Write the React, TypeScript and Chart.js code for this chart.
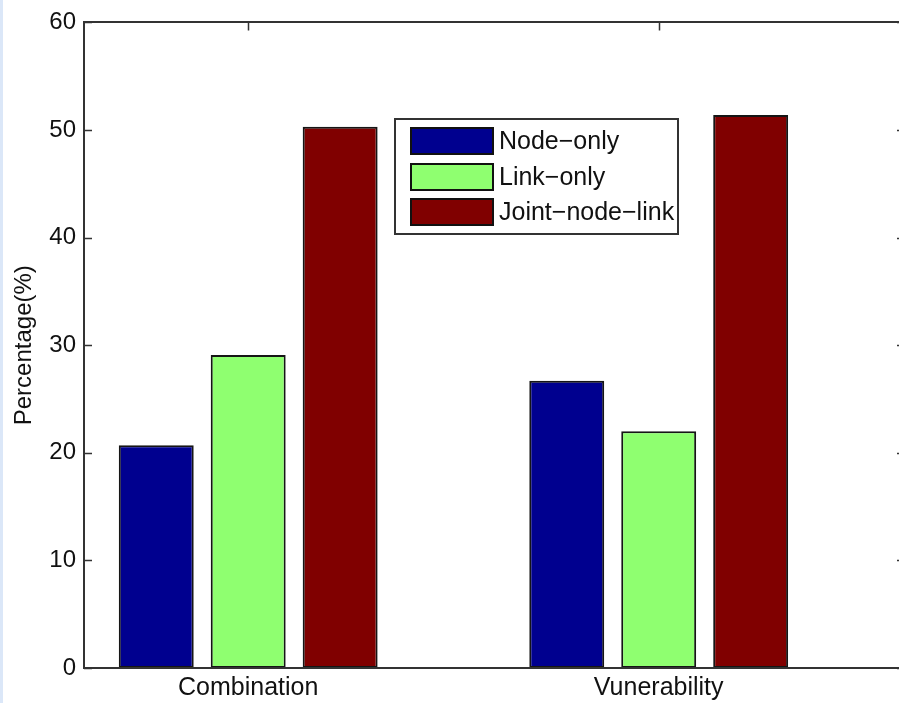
import React, { useEffect, useRef } from 'react';
import { Chart, registerables } from 'chart.js';

Chart.register(...registerables);

// ---- data ----
const categories = ['Combination', 'Vunerability'];
const categoryPositions = [1, 2];
const nodeOnly = [20.7, 26.7];
const linkOnly = [29.1, 22.0];
const jointNodeLink = [50.3, 51.4];
const seriesLabels = ['Node−only', 'Link−only', 'Joint−node−link'];
const yTickValues = [0, 10, 20, 30, 40, 50, 60];

const FONT = '"Liberation Sans", Arial, Helvetica, sans-serif';
const AXIS_COLOR = '#333';
const TEXT_COLOR = '#111';

const framePlugin = {
  id: 'matlabFrame',
  beforeDatasetsDraw(chart: any) {
    const { ctx, chartArea, scales } = chart;
    const { left, right, top, bottom } = chartArea;
    const tl = 8;
    ctx.save();
    ctx.strokeStyle = AXIS_COLOR;
    ctx.lineWidth = 1.5;
    ctx.beginPath();
    yTickValues.forEach((v) => {
      const y = Math.round(scales.y.getPixelForValue(v)) + 0.5;
      ctx.moveTo(left, y);
      ctx.lineTo(left + tl, y);
      ctx.moveTo(right, y);
      ctx.lineTo(right - tl, y);
    });
    categoryPositions.forEach((v) => {
      const x = Math.round(scales.x.getPixelForValue(v)) + 0.5;
      ctx.moveTo(x, top);
      ctx.lineTo(x, top + tl);
      ctx.moveTo(x, bottom);
      ctx.lineTo(x, bottom - tl);
    });
    ctx.stroke();
    ctx.restore();
  },
  afterDatasetsDraw(chart: any) {
    const { ctx, chartArea } = chart;
    const { left, right, top, bottom } = chartArea;
    ctx.save();
    ctx.strokeStyle = AXIS_COLOR;
    ctx.lineWidth = 2;
    ctx.strokeRect(Math.round(left), Math.round(top), Math.round(right - left), Math.round(bottom - top));
    ctx.restore();
  },
  afterDraw(chart: any) {
    // legend box (MATLAB style, inside axes)
    const { ctx } = chart;
    const boxX = 395;
    const boxY = 119;
    const boxW = 283;
    const boxH = 115;
    ctx.save();
    ctx.fillStyle = '#fff';
    ctx.fillRect(boxX, boxY, boxW, boxH);
    ctx.strokeStyle = AXIS_COLOR;
    ctx.lineWidth = 2;
    ctx.strokeRect(boxX, boxY, boxW, boxH);
    const rowTop = [128, 164, 199];
    chart.data.datasets.forEach((ds: any, i: number) => {
      const sy = rowTop[i];
      ctx.fillStyle = ds.backgroundColor;
      ctx.fillRect(411, sy, 82, 26);
      ctx.strokeStyle = '#111';
      ctx.lineWidth = 2;
      ctx.strokeRect(411, sy, 82, 26);
      ctx.fillStyle = TEXT_COLOR;
      ctx.font = `25px ${FONT}`;
      ctx.textAlign = 'left';
      ctx.textBaseline = 'middle';
      ctx.fillText(ds.label, 499, sy + 14);
    });
    ctx.restore();
  },
};

export default function App() {
  const canvasRef = useRef<HTMLCanvasElement | null>(null);

  useEffect(() => {
    if (!canvasRef.current) return;
    const mk = (vals: number[]) => vals.map((v, i) => ({ x: categoryPositions[i], y: v }));
    const colors = ['#00008f', '#8fff70', '#800000'];
    const series = [nodeOnly, linkOnly, jointNodeLink];
    const chart = new Chart(canvasRef.current, {
      type: 'bar',
      data: {
        datasets: series.map((s, i) => ({
          label: seriesLabels[i],
          data: mk(s),
          backgroundColor: colors[i],
          borderColor: '#151515',
          borderWidth: 2,
          borderSkipped: false,
          categoryPercentage: 0.672,
          barPercentage: 0.815,
        })),
      },
      options: {
        responsive: false,
        animation: false,
        devicePixelRatio: 1,
        layout: { padding: { left: 0, top: 20, right: 15, bottom: 0 } },
        plugins: {
          legend: { display: false },
          tooltip: { enabled: false },
          title: { display: false },
        },
        scales: {
          x: {
            type: 'linear',
            min: 0.6,
            max: 2.6,
            offset: false,
            grid: { display: false, drawTicks: false, offset: false },
            border: { display: false },
            afterBuildTicks: (scale: any) => {
              scale.ticks = categoryPositions.map((v) => ({ value: v }));
            },
            afterFit: (scale: any) => {
              scale.height = 35;
            },
            ticks: {
              autoSkip: false,
              maxRotation: 0,
              padding: 5,
              color: TEXT_COLOR,
              font: { family: FONT, size: 25 },
              callback: (value: any) => {
                const idx = categoryPositions.indexOf(Number(value));
                return idx >= 0 ? categories[idx] : '';
              },
            },
          },
          y: {
            min: 0,
            max: 60,
            grid: { display: false, drawTicks: false },
            border: { display: false },
            afterBuildTicks: (scale: any) => {
              scale.ticks = yTickValues.map((v) => ({ value: v }));
            },
            afterFit: (scale: any) => {
              scale.width = 84;
            },
            ticks: {
              padding: 8,
              color: TEXT_COLOR,
              font: { family: FONT, size: 24 },
            },
            title: {
              display: true,
              text: 'Percentage(%)',
              color: TEXT_COLOR,
              font: { family: FONT, size: 24 },
              padding: { top: 10, bottom: 0 },
            },
          },
        },
      },
      plugins: [framePlugin],
    } as any);
    return () => chart.destroy();
  }, []);

  return (
    <div
      style={{
        position: 'fixed',
        left: 0,
        top: 0,
        width: 899,
        height: 703,
        overflow: 'hidden',
        background: '#fff',
      }}
    >
      <canvas ref={canvasRef} width={920} height={703} style={{ position: 'absolute', left: 0, top: 0 }} />
      <div
        style={{
          position: 'absolute',
          left: 0,
          top: 0,
          width: 3,
          height: 703,
          background: '#dbe7f8',
        }}
      />
    </div>
  );
}
